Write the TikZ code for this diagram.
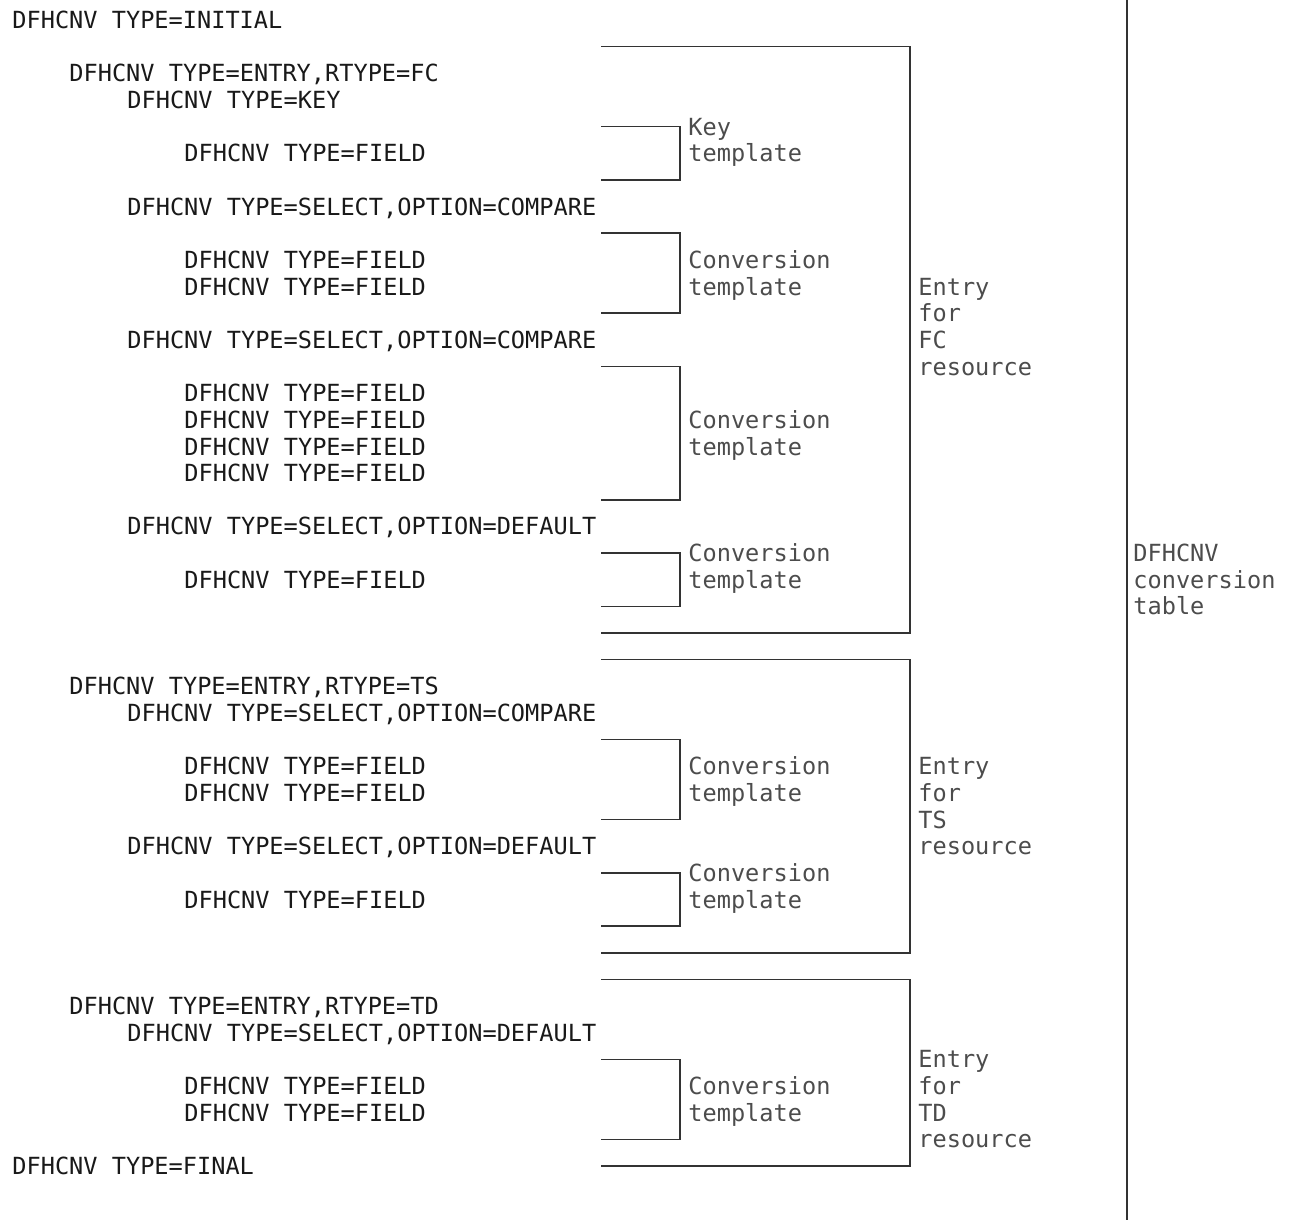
\documentclass[tikz,border=0pt]{standalone}
\usepackage{fontspec}
\newfontfamily\codefont{DejaVu Sans Mono}

\tikzset{
  code/.style={anchor=west, inner sep=0pt, text height=8.6pt, text depth=0pt,
    text=black!90, font=\codefont\fontsize{11.8pt}{13pt}\selectfont},
  lbl/.style={code, text=black!70},
  brk/.style={draw=black!80, line width=0.8pt},
}

\begin{document}
\begin{tikzpicture}[x=0.5pt, y=-13.325pt]
            \useasboundingbox (0, -0.7505) rectangle (1291, 45.028);
            \node[code] (r0) at (12, 0) {DFHCNV TYPE=INITIAL};
            \node[code] (r2) at (69, 2) {DFHCNV TYPE=ENTRY,RTYPE=FC};
            \node[code] (r3) at (127, 3) {DFHCNV TYPE=KEY};
            \node[code] (r5) at (184, 5) {DFHCNV TYPE=FIELD};
            \node[code] (r7) at (127, 7) {DFHCNV TYPE=SELECT,OPTION=COMPARE};
            \node[code] (r9) at (184, 9) {DFHCNV TYPE=FIELD};
            \node[code] (r10) at (184, 10) {DFHCNV TYPE=FIELD};
            \node[code] (r12) at (127, 12) {DFHCNV TYPE=SELECT,OPTION=COMPARE};
            \node[code] (r14) at (184, 14) {DFHCNV TYPE=FIELD};
            \node[code] (r15) at (184, 15) {DFHCNV TYPE=FIELD};
            \node[code] (r16) at (184, 16) {DFHCNV TYPE=FIELD};
            \node[code] (r17) at (184, 17) {DFHCNV TYPE=FIELD};
            \node[code] (r19) at (127, 19) {DFHCNV TYPE=SELECT,OPTION=DEFAULT};
            \node[code] (r21) at (184, 21) {DFHCNV TYPE=FIELD};
            \node[code] (r25) at (69, 25) {DFHCNV TYPE=ENTRY,RTYPE=TS};
            \node[code] (r26) at (127, 26) {DFHCNV TYPE=SELECT,OPTION=COMPARE};
            \node[code] (r28) at (184, 28) {DFHCNV TYPE=FIELD};
            \node[code] (r29) at (184, 29) {DFHCNV TYPE=FIELD};
            \node[code] (r31) at (127, 31) {DFHCNV TYPE=SELECT,OPTION=DEFAULT};
            \node[code] (r33) at (184, 33) {DFHCNV TYPE=FIELD};
            \node[code] (r37) at (69, 37) {DFHCNV TYPE=ENTRY,RTYPE=TD};
            \node[code] (r38) at (127, 38) {DFHCNV TYPE=SELECT,OPTION=DEFAULT};
            \node[code] (r40) at (184, 40) {DFHCNV TYPE=FIELD};
            \node[code] (r41) at (184, 41) {DFHCNV TYPE=FIELD};
            \node[code] (r43) at (12, 43) {DFHCNV TYPE=FINAL};
            \draw[brk] (601, 1) -| (910, 23) -- (601, 23);
            \draw[brk] (601, 24) -| (910, 35) -- (601, 35);
            \draw[brk] (601, 36) -| (910, 43) -- (601, 43);
            \draw[brk] (601, 4) -| (680, 6) -- (601, 6);
            \draw[brk] (601, 8) -| (680, 11) -- (601, 11);
            \draw[brk] (601, 13) -| (680, 18) -- (601, 18);
            \draw[brk] (601, 20) -| (680, 22) -- (601, 22);
            \draw[brk] (601, 27) -| (680, 30) -- (601, 30);
            \draw[brk] (601, 32) -| (680, 34) -- (601, 34);
            \draw[brk] (601, 39) -| (680, 42) -- (601, 42);
            \draw[brk, line width=1pt] (1127, -0.7505) -- (1127, 45.028);
            \node[lbl] (key1) at (688, 4) {Key};
            \node[lbl] (key2) at (688, 5) {template};
            \node[lbl] (fca1) at (688, 9) {Conversion};
            \node[lbl] (fca2) at (688, 10) {template};
            \node[lbl] (fcb1) at (688, 15) {Conversion};
            \node[lbl] (fcb2) at (688, 16) {template};
            \node[lbl] (fcc1) at (688, 20) {Conversion};
            \node[lbl] (fcc2) at (688, 21) {template};
            \node[lbl] (tsa1) at (688, 28) {Conversion};
            \node[lbl] (tsa2) at (688, 29) {template};
            \node[lbl] (tsb1) at (688, 32) {Conversion};
            \node[lbl] (tsb2) at (688, 33) {template};
            \node[lbl] (tda1) at (688, 40) {Conversion};
            \node[lbl] (tda2) at (688, 41) {template};
            \node[lbl] (fc1) at (918, 10) {Entry};
            \node[lbl] (fc2) at (918, 11) {for};
            \node[lbl] (fc3) at (918, 12) {FC};
            \node[lbl] (fc4) at (918, 13) {resource};
            \node[lbl] (ts1) at (918, 28) {Entry};
            \node[lbl] (ts2) at (918, 29) {for};
            \node[lbl] (ts3) at (918, 30) {TS};
            \node[lbl] (ts4) at (918, 31) {resource};
            \node[lbl] (td1) at (918, 39) {Entry};
            \node[lbl] (td2) at (918, 40) {for};
            \node[lbl] (td3) at (918, 41) {TD};
            \node[lbl] (td4) at (918, 42) {resource};
            \node[lbl] (tab1) at (1133, 20) {DFHCNV};
            \node[lbl] (tab2) at (1133, 21) {conversion};
            \node[lbl] (tab3) at (1133, 22) {table};
        \end{tikzpicture}
\end{document}
